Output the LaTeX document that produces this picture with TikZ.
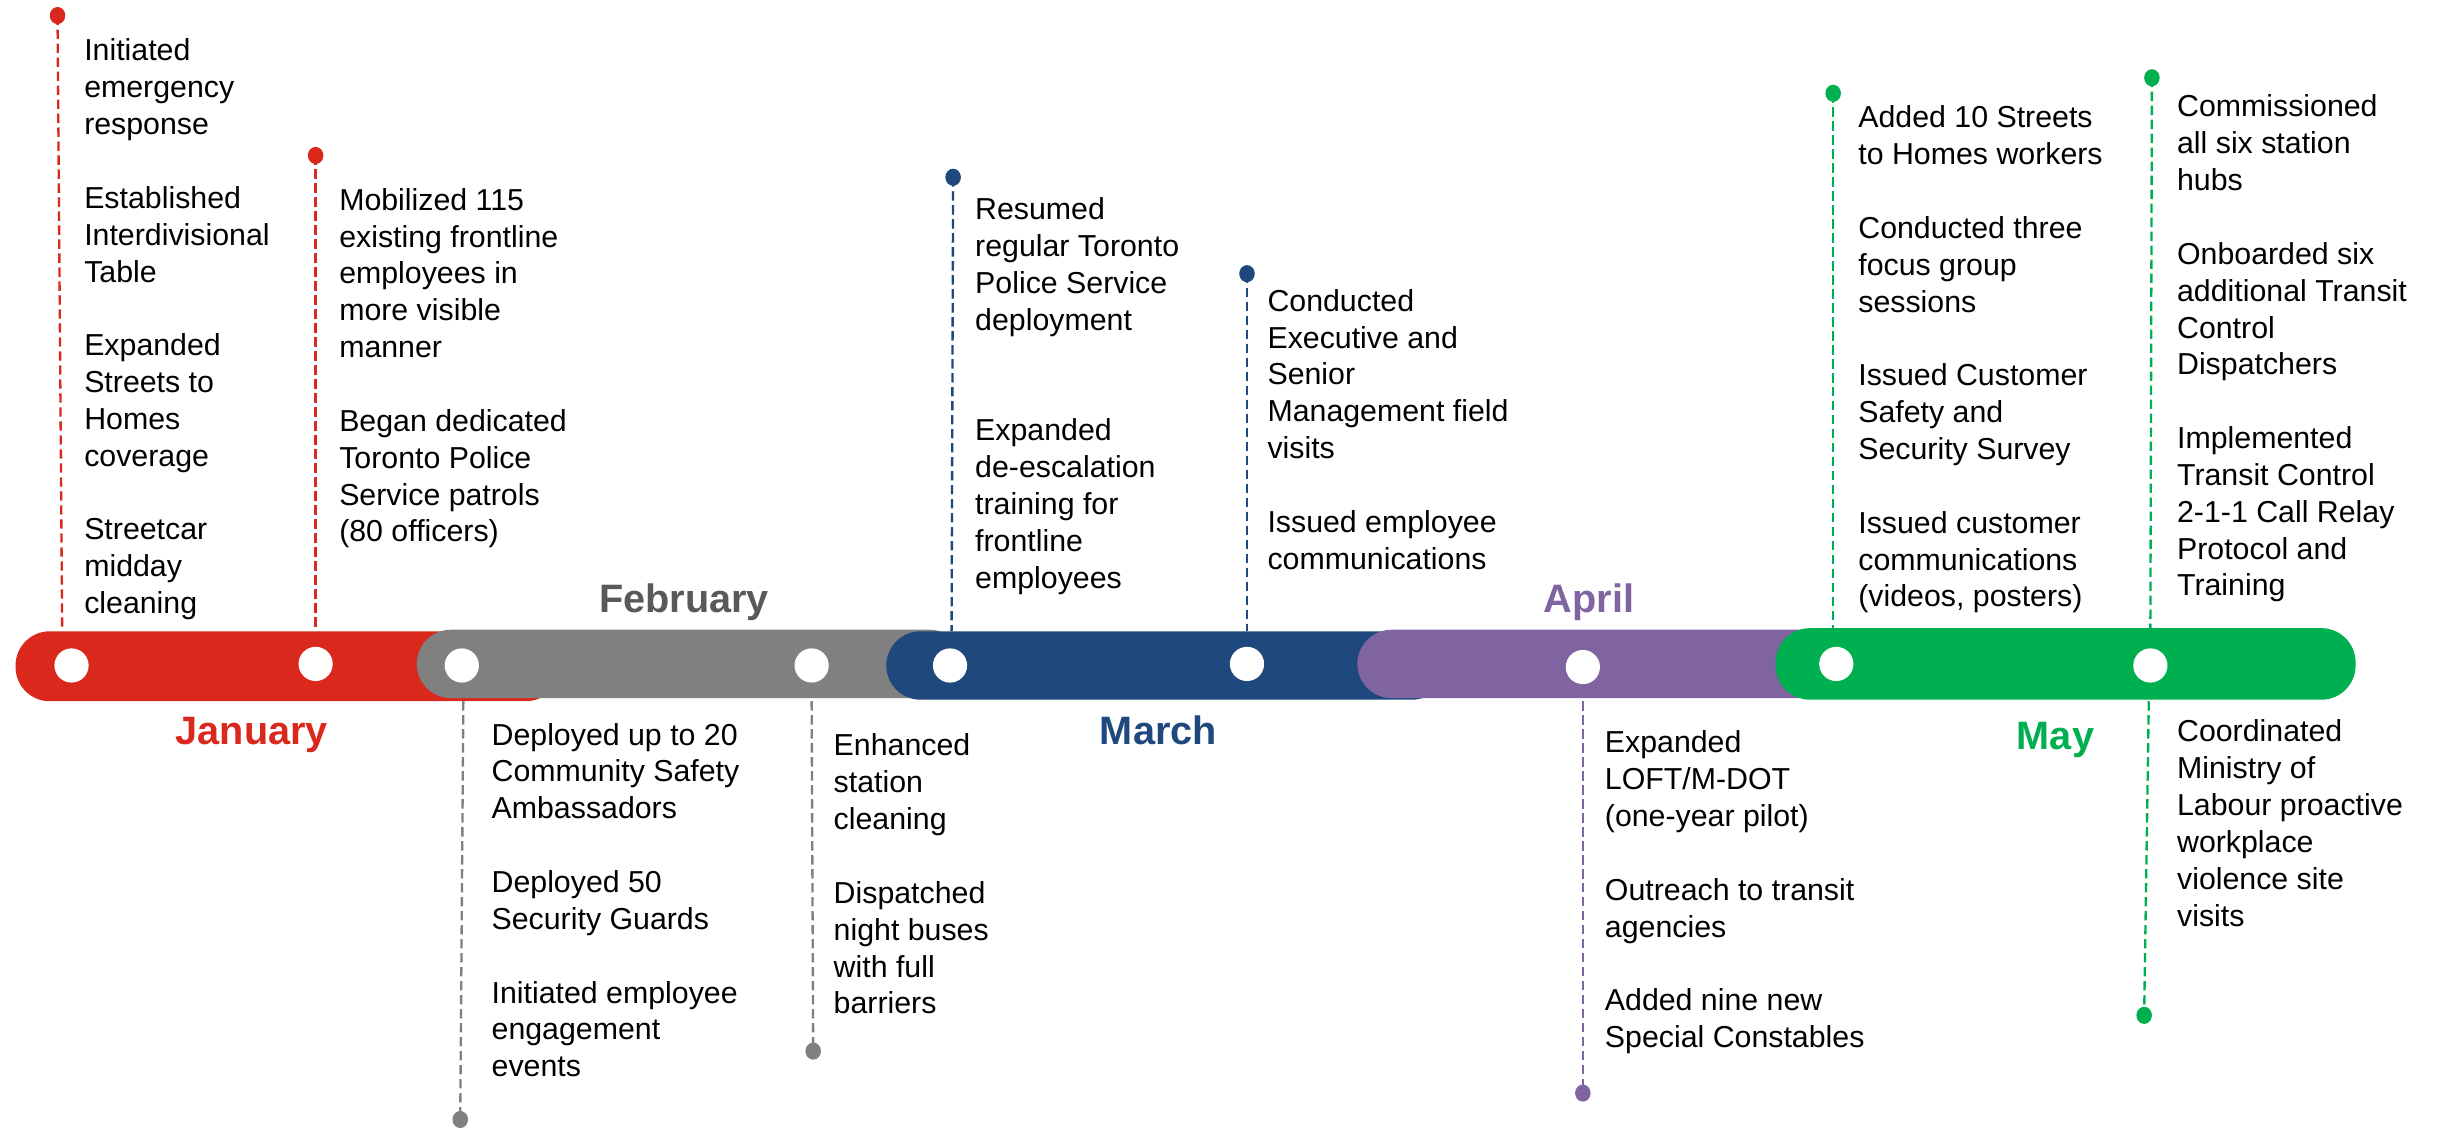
\documentclass[tikz,border=0pt]{standalone}
\usepackage{fontspec}
\setmainfont{Liberation Sans}
\usetikzlibrary{shapes.geometric}
\definecolor{cred}{RGB}{218,41,28}
\definecolor{cgrey}{RGB}{128,128,128}
\definecolor{cgreytxt}{RGB}{89,89,89}
\definecolor{cblue}{RGB}{31,73,125}
\definecolor{cpurple}{RGB}{128,100,162}
\definecolor{cgreen}{RGB}{0,176,80}
\begin{document}
\begin{tikzpicture}[x=1pt,y=-1pt,
 seg/.style={fill=#1, rounded corners=22pt},
 hole/.style={circle, fill=white, minimum size=22pt, inner sep=0pt},
 stemdot/.style={ellipse, fill=#1, minimum width=10pt, minimum height=11pt, inner sep=0pt},
 stem/.style={draw=#1, line width=1.5pt, dash pattern=on 6pt off 3pt},
 body/.style={anchor=north west, align=left, inner sep=0pt, font=\fontsize{19.5}{23.7}\selectfont},
 month/.style={anchor=base, font=\fontsize{25.5}{30}\selectfont\bfseries, text=#1, inner sep=0pt},
]
\useasboundingbox (0,0) rectangle (1568,726);
% bar segments
\fill[seg=cred] (10,406) rectangle (360,451);
\fill[seg=cgrey] (268,405) rectangle (620,449);
\fill[seg=cblue] (570,406) rectangle (930,450);
\fill[seg=cpurple] (873,405) rectangle (1206,449);
\fill[seg=cgreen] (1142,404) rectangle (1515,450);
% holes
\node[hole] (h1) at (46,428) {};
\node[hole] (h2) at (203,427) {};
\node[hole] (h3) at (297,428) {};
\node[hole] (h4) at (522,428) {};
\node[hole] (h5) at (611,428) {};
\node[hole] (h6) at (802,427) {};
\node[hole] (h7) at (1018,429) {};
\node[hole] (h8) at (1181,427) {};
\node[hole] (h9) at (1383,428) {};
% stems above
\node[stemdot=cred] (d1) at (37,10) {};
\coordinate (b1) at (40,405);
\draw[stem=cred] (d1.center) -- (b1);
\node[stemdot=cred] (d2) at (203,100) {};
\coordinate (b2) at (203,405);
\draw[stem=cred] (d2.center) -- (b2);
\node[stemdot=cblue] (d3) at (613,114) {};
\coordinate (b3) at (612,406);
\draw[stem=cblue] (d3.center) -- (b3);
\node[stemdot=cblue] (d4) at (802,176) {};
\coordinate (b4) at (802,406);
\draw[stem=cblue] (d4.center) -- (b4);
\node[stemdot=cgreen] (d5) at (1179,60) {};
\coordinate (b5) at (1179,404);
\draw[stem=cgreen] (d5.center) -- (b5);
\node[stemdot=cgreen] (d6) at (1384,50) {};
\coordinate (b6) at (1383,404);
\draw[stem=cgreen] (d6.center) -- (b6);
% stems below
\coordinate (b7) at (298,451);
\node[stemdot=cgrey] (d7) at (296,720) {};
\draw[stem=cgrey] (b7) -- (d7.center);
\coordinate (b8) at (522,451);
\node[stemdot=cgrey] (d8) at (523,676) {};
\draw[stem=cgrey] (b8) -- (d8.center);
\coordinate (b9) at (1018,451);
\node[stemdot=cpurple] (d9) at (1018,703) {};
\draw[stem=cpurple] (b9) -- (d9.center);
\coordinate (b10) at (1382,451);
\node[stemdot=cgreen] (d10) at (1379,653) {};
\draw[stem=cgreen] (b10) -- (d10.center);
% month labels
\node[month=cred] (jan) at (162,479) {January};
\node[month=cgreytxt] (feb) at (440,394) {February};
\node[month=cblue] (mar) at (745,479) {March};
\node[month=cpurple] (apr) at (1022,394) {April};
\node[month=cgreen] (may) at (1322,482) {May};
% text blocks
\node[body] (tA) at (54,22.4) {\strut Initiated\\emergency\\response\\[23.7pt]Established\\Interdivisional\\Table\\[23.7pt]Expanded\\Streets to\\Homes\\coverage\\[23.7pt]Streetcar\\midday\\cleaning};
\node[body] (tB) at (218,118.4) {\strut Mobilized 115\\existing frontline\\employees in\\more visible\\manner\\[23.7pt]Began dedicated\\Toronto Police\\Service patrols\\(80 officers)};
\node[body] (tC) at (627,124.4) {\strut Resumed\\regular Toronto\\Police Service\\deployment\\[47.4pt]Expanded\\de-escalation\\training for\\frontline\\employees};
\node[body] (tD) at (815,183.4) {\strut Conducted\\Executive and\\Senior\\Management field\\visits\\[23.7pt]Issued employee\\communications};
\node[body] (tE) at (1195,65.4) {\strut Added 10 Streets\\to Homes workers\\[23.7pt]Conducted three\\focus group\\sessions\\[23.7pt]Issued Customer\\Safety and\\Security Survey\\[23.7pt]Issued customer\\communications\\(videos, posters)};
\node[body] (tF) at (1400,58.4) {\strut Commissioned\\all six station\\hubs\\[23.7pt]Onboarded six\\additional Transit\\Control\\Dispatchers\\[23.7pt]Implemented\\Transit Control\\2-1-1 Call Relay\\Protocol and\\Training};
\node[body] (tG) at (316,462.4) {\strut Deployed up to 20\\Community Safety\\Ambassadors\\[23.7pt]Deployed 50\\Security Guards\\[23.7pt]Initiated employee\\engagement\\events};
\node[body] (tH) at (536,469.4) {\strut Enhanced\\station\\cleaning\\[23.7pt]Dispatched\\night buses\\with full\\barriers};
\node[body] (tI) at (1032,467.4) {\strut Expanded\\LOFT/M-DOT\\(one-year pilot)\\[23.7pt]Outreach to transit\\agencies\\[23.7pt]Added nine new\\Special Constables};
\node[body] (tJ) at (1400,460.4) {\strut Coordinated\\Ministry of\\Labour proactive\\workplace\\violence site\\visits};
\end{tikzpicture}
\end{document}
